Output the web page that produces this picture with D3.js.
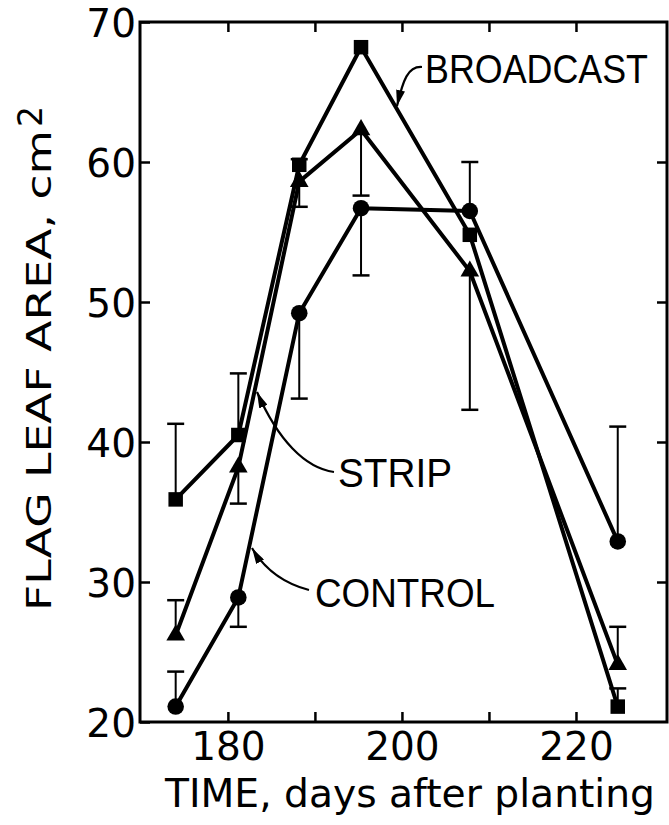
<!DOCTYPE html>
<html><head><meta charset="utf-8">
<script src="https://cdn.jsdelivr.net/npm/d3@7/dist/d3.min.js"></script>
<style>body{margin:0;background:#fff}svg{display:block}</style>
</head><body>
<svg id="chart" width="669" height="825"></svg>
<script>
// ---- data ----
const days = [174, 181.2, 188.2, 195.3, 207.8, 224.8];
const broadcast = [35.9, 40.5, 59.8, 68.2, 54.8, 21.1];
const strip = [26.2, 38.2, 58.6, 62.3, 52.2, 24.1];
const control = [21.1, 28.9, 49.2, 56.7, 56.5, 32.9];
// one-sided error bar end values (null = no bar)
const broadcastErr = [41.3, 44.9, 60.2, null, null, 22.4];
const stripErr = [28.7, 35.6, 56.8, 57.6, 42.3, 26.8];
const controlErr = [23.6, 26.8, 43.1, 51.9, 60.0, 41.1];
const xTicks = [180, 190, 200, 210, 220];
const xTickLabels = [180, 200, 220];
const yTicks = [20, 30, 40, 50, 60, 70];
const seriesNames = ["BROADCAST", "STRIP", "CONTROL"];
const xTitle = "TIME, days after planting";
const yTitle = "FLAG LEAF AREA, cm";

const svg = d3.select("#chart");
const x = d3.scaleLinear().domain([169.9, 230.46]).range([140, 667]);
const y = d3.scaleLinear().domain([20, 70]).range([722, 22]);
const numFont = "'DejaVu Sans', sans-serif";

// frame
svg.append("rect").attr("x", x.range()[0]).attr("y", y.range()[1])
  .attr("width", x.range()[1] - x.range()[0]).attr("height", y.range()[0] - y.range()[1])
  .attr("fill", "none").attr("stroke", "#000").attr("stroke-width", 3);

function styleAxis(g) {
  g.select(".domain").remove();
  g.selectAll(".tick line").attr("stroke", "#000").attr("stroke-width", 2.5);
  g.selectAll("text").attr("fill", "#000").attr("font-family", numFont).attr("font-size", 39);
}

// bottom axis (inside ticks, labels)
svg.append("g").attr("transform", `translate(0,${y(20)})`)
  .call(d3.axisBottom(x).tickValues(xTicks).tickSize(-10)
    .tickFormat(d => xTickLabels.includes(d) ? d : ""))
  .call(styleAxis)
  .call(g => g.selectAll("text").attr("y", 38).attr("dy", null));
// top axis
svg.append("g").attr("transform", `translate(0,${y(70)})`)
  .call(d3.axisTop(x).tickValues(xTicks).tickSize(-10).tickFormat(""))
  .call(styleAxis);
// left axis
svg.append("g").attr("transform", `translate(${x.range()[0]},0)`)
  .call(d3.axisLeft(y).tickValues(yTicks).tickSize(-10))
  .call(styleAxis)
  .call(g => g.selectAll("text").attr("x", -4).attr("dy", "0.36em"));
// right axis
svg.append("g").attr("transform", `translate(${x.range()[1]},0)`)
  .call(d3.axisRight(y).tickValues(yTicks.slice(1, -1)).tickSize(-10).tickFormat(""))
  .call(styleAxis);

// axis titles (natural width close to target, then stretched)
svg.append("g").attr("transform", "translate(165,807) scale(1,1.25)")
  .append("text").attr("x", 0).attr("y", 0)
  .attr("font-family", numFont).attr("font-size", 31)
  .attr("textLength", 490).attr("lengthAdjust", "spacingAndGlyphs")
  .text(xTitle);
const yt = svg.append("g").attr("transform", "translate(51,611) rotate(-90)");
yt.append("text").attr("x", 0).attr("y", 0)
  .attr("font-family", numFont).attr("font-size", 34)
  .attr("textLength", 481).attr("lengthAdjust", "spacingAndGlyphs")
  .text(yTitle);
yt.append("text").attr("x", 484).attr("y", -9)
  .attr("font-family", numFont).attr("font-size", 33).text("2");

// series
const series = [
  {name: seriesNames[0], vals: broadcast, err: broadcastErr, sym: d3.symbolSquare, size: 210},
  {name: seriesNames[1], vals: strip, err: stripErr, sym: d3.symbolTriangle, size: 150},
  {name: seriesNames[2], vals: control, err: controlErr, sym: d3.symbolCircle, size: 215}
];
const line = d3.line().x(d => x(d[0])).y(d => y(d[1]));
const plot = svg.append("g");
series.forEach(s => {
  const pts = days.map((d, i) => [d, s.vals[i]]);
  plot.append("path").attr("d", line(pts)).attr("fill", "none")
    .attr("stroke", "#000").attr("stroke-width", 4).attr("stroke-linejoin", "round");
  days.forEach((d, i) => {
    const e = s.err[i];
    if (e == null) return;
    plot.append("line").attr("x1", x(d)).attr("x2", x(d)).attr("y1", y(s.vals[i])).attr("y2", y(e))
      .attr("stroke", "#000").attr("stroke-width", 2);
    plot.append("line").attr("x1", x(d) - 8.5).attr("x2", x(d) + 8.5).attr("y1", y(e)).attr("y2", y(e))
      .attr("stroke", "#000").attr("stroke-width", 2.5);
  });
  plot.selectAll(null).data(pts).enter().append("path")
    .attr("transform", d => `translate(${x(d[0])},${y(d[1])})`)
    .attr("d", d3.symbol().type(s.sym).size(s.size)).attr("fill", "#000");
});

// annotations
const defs = svg.append("defs");
defs.append("marker").attr("id", "ah").attr("markerUnits", "userSpaceOnUse")
  .attr("markerWidth", 17).attr("markerHeight", 9).attr("refX", 16).attr("refY", 4.5)
  .attr("orient", "auto")
  .append("path").attr("d", "M0,0 L16,4.5 L0,9 Z").attr("fill", "#000");

const labelFont = "'Liberation Sans', Arial, sans-serif";
const notes = [
  {text: seriesNames[0], x: 425, y: 83, len: 223, fs: 36, path: "M422,67 C408,66 403,80 397,106"},
  {text: seriesNames[1], x: 338, y: 487, len: 114, fs: 38, path: "M334,472 C305,468 278,440 257,392"},
  {text: seriesNames[2], x: 315, y: 607, len: 180, fs: 37, path: "M309,590 C290,585 268,575 252,548"}
];
notes.forEach(n => {
  svg.append("g").attr("transform", `translate(${n.x},${n.y}) scale(1,${(40 / n.fs).toFixed(3)})`)
    .append("text").attr("x", 0).attr("y", 0)
    .attr("font-family", labelFont).attr("font-size", n.fs)
    .attr("textLength", n.len).attr("lengthAdjust", "spacingAndGlyphs").text(n.text);
  svg.append("path").attr("d", n.path).attr("fill", "none").attr("stroke", "#000")
    .attr("stroke-width", 2.2).attr("marker-end", "url(#ah)");
});
</script>
</body></html>
